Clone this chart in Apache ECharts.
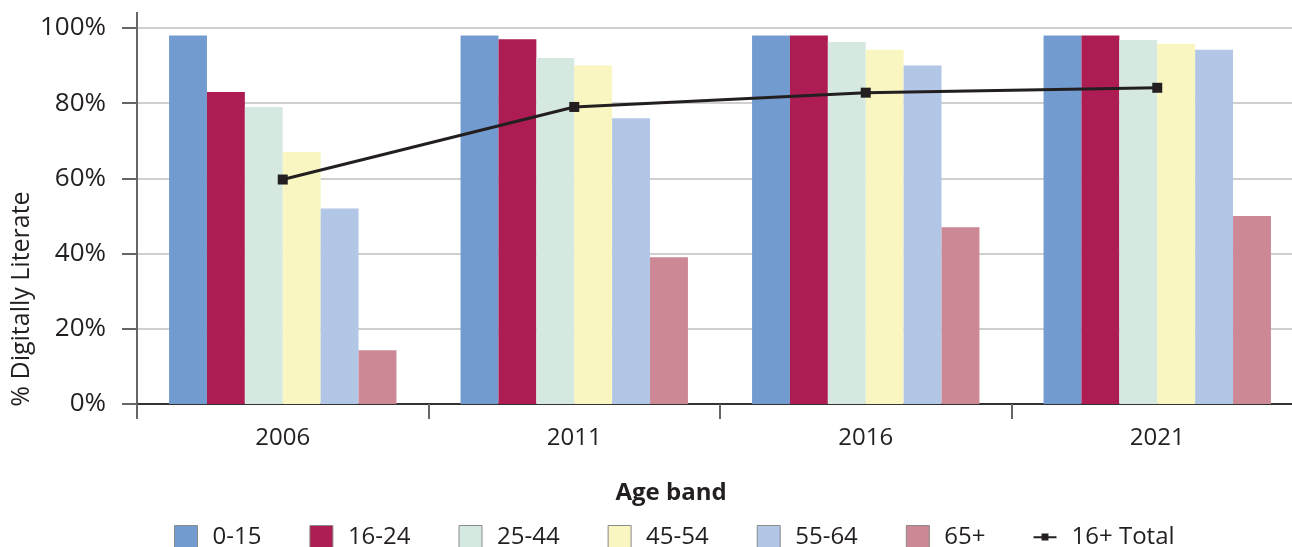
<!DOCTYPE html>
<html>
<head>
<meta charset="utf-8">
<script src="https://cdn.jsdelivr.net/npm/echarts@6/dist/echarts.min.js"></script>
<style>
  html, body { margin: 0; padding: 0; background: #fff; overflow: hidden; }
  #literacyChart { width: 1304px; height: 547px; }
</style>
</head>
<body>
<div id="literacyChart"></div>
<script>
var years = ['2006', '2011', '2016', '2021'];
var bandNames = ['0-15', '16-24', '25-44', '45-54', '55-64', '65+'];
var band0to15 = [98, 98, 98, 98];
var band16to24 = [83, 97, 98, 98];
var band25to44 = [79, 92, 96.3, 96.8];
var band45to54 = [67, 90, 94.2, 95.8];
var band55to64 = [52, 76, 90, 94.2];
var band65plus = [14.3, 39, 47, 50];
var total16plus = [59.7, 79, 82.8, 84.1];
var yTicks = [0, 20, 40, 60, 80, 100];

var bandColors = ['#729BCF', '#AD1C52', '#D5E9E0', '#F9F6C1', '#B2C6E5', '#CC8894'];
var textColor = '#231F20';
var font = '"Open Sans", "Noto Sans", sans-serif';

var loadLiteracyChart = function () {
    var chart = echarts.init(document.getElementById('literacyChart'));
    var bandData = [band0to15, band16to24, band25to44, band45to54, band55to64, band65plus];

    var series = bandNames.map(function (name, i) {
        return {
            name: name,
            type: 'bar',
            barGap: '0%',
            barCategoryGap: '22%',
            itemStyle: { color: bandColors[i] },
            data: bandData[i]
        };
    });
    series.push({
        name: '16+ Total',
        type: 'line',
        z: 5,
        symbol: 'rect',
        symbolSize: 10,
        lineStyle: { color: textColor, width: 3 },
        itemStyle: { color: textColor },
        data: total16plus
    });

    var legendData = bandNames.map(function (name) {
        return { name: name, icon: 'rect', itemStyle: { borderColor: '#8a8a8a', borderWidth: 1 } };
    });
    legendData.push({
        name: '16+ Total',
        icon: 'path://M0,4 H30 V6.5 H0 Z M10.5,0.5 H19.5 V9.5 H10.5 Z'
    });

    var option = {
        animation: false,
        textStyle: { fontFamily: font, color: textColor },
        grid: { left: 137, top: 28, right: 1, bottom: 143, containLabel: false },
        legend: {
            left: 169,
            top: 520,
            itemWidth: 23,
            itemHeight: 23,
            itemGap: 48,
            textStyle: { fontFamily: font, fontSize: 24, color: textColor, padding: [0, 0, 0, 10] },
            data: legendData
        },
        xAxis: [
            {
                type: 'category',
                data: years,
                axisLine: { lineStyle: { color: '#333', width: 2 } },
                axisTick: { show: true, length: 15, lineStyle: { color: '#666', width: 2 } },
                axisLabel: { fontFamily: font, fontSize: 24, color: textColor, margin: 22 }
            }
        ],
        yAxis: [
            {
                type: 'value',
                min: yTicks[0],
                max: yTicks[yTicks.length - 1],
                interval: yTicks[1] - yTicks[0],
                axisLine: { show: true, lineStyle: { color: '#666', width: 2 } },
                axisTick: { show: true, length: 15, lineStyle: { color: '#666', width: 2 } },
                axisLabel: { fontFamily: font, fontSize: 26, color: textColor, margin: 31, formatter: '{value}%' },
                splitLine: { show: true, lineStyle: { color: '#cfcfcf', width: 2 } }
            }
        ],
        graphic: [
            {
                type: 'line',
                shape: { x1: 137, y1: 12, x2: 137, y2: 28 },
                style: { stroke: '#666', lineWidth: 2 }
            },
            {
                type: 'text',
                x: 22,
                y: 299,
                rotation: Math.PI / 2,
                style: {
                    text: '% Digitally Literate',
                    fontFamily: font,
                    fontSize: 25,
                    fill: textColor,
                    align: 'center',
                    verticalAlign: 'middle'
                }
            },
            {
                type: 'text',
                x: 671,
                y: 493,
                style: {
                    text: 'Age band',
                    fontFamily: font,
                    fontSize: 24,
                    fontWeight: 'bold',
                    fill: textColor,
                    align: 'center',
                    verticalAlign: 'middle'
                }
            }
        ],
        series: series
    };
    chart.setOption(option);
};
loadLiteracyChart();
</script>
</body>
</html>
